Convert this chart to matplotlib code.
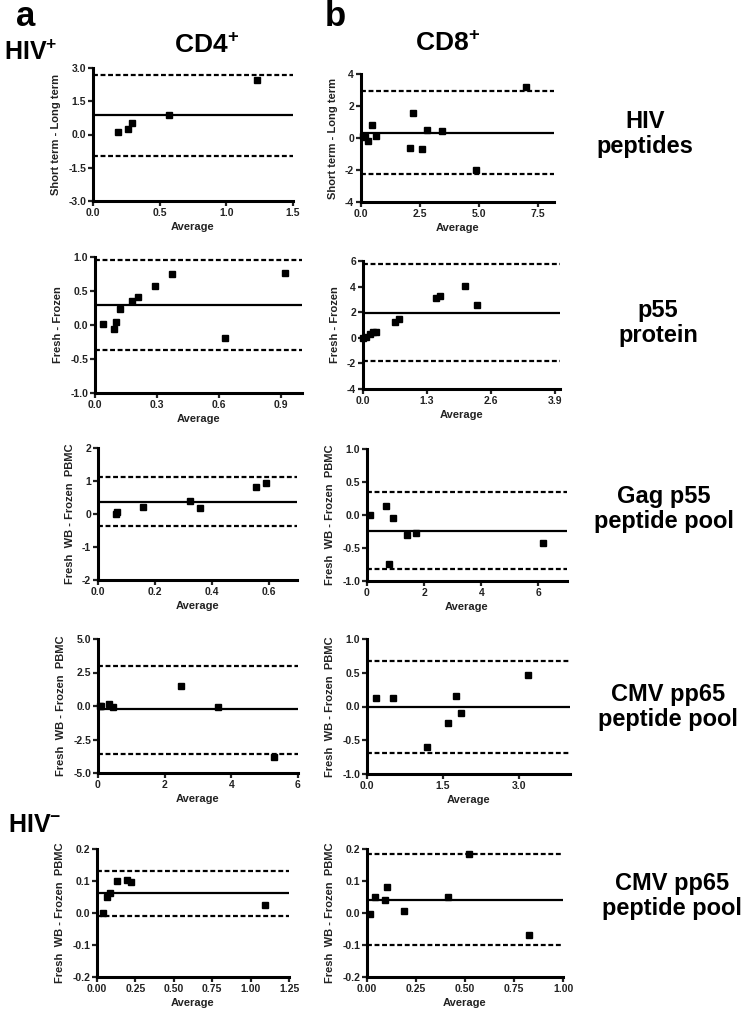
import matplotlib
matplotlib.use('Agg')
import matplotlib.pyplot as plt

plt.rcParams['font.family'] = ['Liberation Sans', 'DejaVu Sans']
plt.rcParams['font.weight'] = 'bold'
plt.rcParams['mathtext.fontset'] = 'custom'
plt.rcParams['mathtext.bf'] = 'Liberation Sans:bold'
plt.rcParams['mathtext.rm'] = 'Liberation Sans:bold'

# ---- data (Bland-Altman: average vs difference) ----
# a: CD4+
cd4_hiv_avg = [0.19, 0.26, 0.29, 0.57, 1.23]
cd4_hiv_diff = [0.13, 0.27, 0.54, 0.90, 2.45]
cd4_hiv_lines = [0.88, 2.68, -0.96]

cd4_p55_avg = [0.04, 0.09, 0.10, 0.12, 0.18, 0.21, 0.29, 0.37, 0.63, 0.92]
cd4_p55_diff = [0.015, -0.06, 0.045, 0.235, 0.36, 0.41, 0.58, 0.75, -0.19, 0.765]
cd4_p55_lines = [0.29, 0.95, -0.37]

cd4_gag_avg = [0.062, 0.067, 0.158, 0.323, 0.358, 0.555, 0.59]
cd4_gag_diff = [0.0, 0.06, 0.21, 0.38, 0.18, 0.82, 0.95]
cd4_gag_lines = [0.36, 1.11, -0.37]

cd4_cmv_avg = [0.05, 0.09, 0.33, 0.45, 2.48, 3.60, 5.28]
cd4_cmv_diff = [0.0, -0.02, 0.15, -0.05, 1.50, -0.05, -3.83]
cd4_cmv_lines = [-0.25, 2.95, -3.60]

cd4_neg_avg = [0.04, 0.063, 0.085, 0.133, 0.195, 0.223, 1.095]
cd4_neg_diff = [0.0, 0.049, 0.064, 0.099, 0.102, 0.097, 0.025]
cd4_neg_lines = [0.061, 0.132, -0.01]

# b: CD8+
cd8_hiv_avg = [0.10, 0.17, 0.28, 0.45, 0.64, 2.10, 2.20, 2.60, 2.80, 3.43, 4.90, 7.00]
cd8_hiv_diff = [0.15, 0.05, -0.18, 0.80, 0.12, -0.60, 1.54, -0.70, 0.53, 0.43, -2.00, 3.20]
cd8_hiv_lines = [0.34, 2.93, -2.28]

cd8_p55_avg = [0.0, 0.07, 0.15, 0.21, 0.27, 0.64, 0.73, 1.48, 1.57, 2.07, 2.31]
cd8_p55_diff = [0.0, 0.10, 0.30, 0.42, 0.45, 1.20, 1.45, 3.10, 3.25, 4.05, 2.60]
cd8_p55_lines = [1.92, 5.74, -1.85]

cd8_gag_avg = [0.12, 0.68, 0.77, 0.90, 1.41, 1.72, 6.16]
cd8_gag_diff = [0.0, 0.13, -0.74, -0.05, -0.31, -0.28, -0.43]
cd8_gag_lines = [-0.24, 0.356, -0.82]

cd8_cmv_avg = [0.18, 0.52, 1.19, 1.59, 1.75, 1.85, 3.17]
cd8_cmv_diff = [0.126, 0.126, -0.60, -0.24, 0.15, -0.10, 0.47]
cd8_cmv_lines = [-0.01, 0.67, -0.69]

cd8_neg_avg = [0.014, 0.04, 0.092, 0.10, 0.19, 0.415, 0.52, 0.825]
cd8_neg_diff = [-0.004, 0.051, 0.04, 0.08, 0.007, 0.049, 0.183, -0.069]
cd8_neg_lines = [0.042, 0.184, -0.099]

ylab_hiv = 'Short term - Long term'
ylab_p55 = 'Fresh - Frozen'
ylab_wb = 'Fresh  WB - Frozen  PBMC'

row_labels = ['HIV\npeptides', 'p55\nprotein', 'Gag p55\npeptide pool',
              'CMV pp65\npeptide pool', 'CMV pp65\npeptide pool']

# panel: avg, diff, lines, ylabel, xlim, xticks, xfmt, ylim, yticks, yfmt, box(left,right,top,bottom px)
panels = [
    (cd4_hiv_avg, cd4_hiv_diff, cd4_hiv_lines, ylab_hiv, 1.5, [0, 0.5, 1.0, 1.5], '%.1f',
     (-3, 3), [-3, -1.5, 0, 1.5, 3], '%.1f', (93, 293, 68, 201)),
    (cd8_hiv_avg, cd8_hiv_diff, cd8_hiv_lines, ylab_hiv, 8.2, [0, 2.5, 5.0, 7.5], '%.1f',
     (-4, 4), [-4, -2, 0, 2, 4], '%d', (361, 554, 74, 202)),
    (cd4_p55_avg, cd4_p55_diff, cd4_p55_lines, ylab_p55, 1.0, [0, 0.3, 0.6, 0.9], '%.1f',
     (-1, 1), [-1, -0.5, 0, 0.5, 1], '%.1f', (95, 302, 257, 393)),
    (cd8_p55_avg, cd8_p55_diff, cd8_p55_lines, ylab_p55, 4.0, [0, 1.3, 2.6, 3.9], '%.1f',
     (-4, 6), [-4, -2, 0, 2, 4, 6], '%d', (363, 560, 261, 389)),
    (cd4_gag_avg, cd4_gag_diff, cd4_gag_lines, ylab_wb, 0.7, [0, 0.2, 0.4, 0.6], '%.1f',
     (-2, 2), [-2, -1, 0, 1, 2], '%d', (98, 297, 448, 580)),
    (cd8_gag_avg, cd8_gag_diff, cd8_gag_lines, ylab_wb, 7.0, [0, 2, 4, 6], '%d',
     (-1, 1), [-1, -0.5, 0, 0.5, 1], '%.1f', (367, 567, 449, 581)),
    (cd4_cmv_avg, cd4_cmv_diff, cd4_cmv_lines, ylab_wb, 6.0, [0, 2, 4, 6], '%d',
     (-5, 5), [-5, -2.5, 0, 2.5, 5], '%.1f', (98, 298, 639, 773)),
    (cd8_cmv_avg, cd8_cmv_diff, cd8_cmv_lines, ylab_wb, 4.0, [0, 1.5, 3.0], '%.1f',
     (-1, 1), [-1, -0.5, 0, 0.5, 1], '%.1f', (367, 570, 639, 774)),
    (cd4_neg_avg, cd4_neg_diff, cd4_neg_lines, ylab_wb, 1.25, [0, 0.25, 0.5, 0.75, 1.0, 1.25], '%.2f',
     (-0.2, 0.2), [-0.2, -0.1, 0, 0.1, 0.2], '%.1f', (97, 289, 849, 977)),
    (cd8_neg_avg, cd8_neg_diff, cd8_neg_lines, ylab_wb, 1.0, [0, 0.25, 0.5, 0.75, 1.0], '%.2f',
     (-0.2, 0.2), [-0.2, -0.1, 0, 0.1, 0.2], '%.1f', (367, 563, 849, 977)),
]

W, H = 750, 1011
fig = plt.figure(figsize=(W / 100, H / 100), dpi=100)

for (avg, diff, lines, ylab, xmax, xt, xf, ylim, yt, yf, box) in panels:
    l, r, t, b = box
    ax = fig.add_axes([l / W, 1 - b / H, (r - l) / W, (b - t) / H])
    ax.axhline(lines[0], color='black', lw=1.6)
    ax.axhline(lines[1], color='black', lw=1.6, ls=(0, (2.2, 1.2)))
    ax.axhline(lines[2], color='black', lw=1.6, ls=(0, (2.2, 1.2)))
    ax.plot(avg, diff, 's', color='black', markersize=5, clip_on=False, zorder=5)
    ax.set_xlim(0, xmax)
    ax.set_ylim(ylim)
    ax.set_xticks(xt)
    ax.set_xticklabels([xf % v for v in xt])
    ax.set_yticks(yt)
    ax.set_yticklabels([yf % v for v in yt])
    for s in ['top', 'right']:
        ax.spines[s].set_visible(False)
    for s in ['left', 'bottom']:
        ax.spines[s].set_linewidth(2.2)
    ax.tick_params(direction='out', length=3.5, width=1.6, labelsize=7.5, pad=1.5, colors='#222222')
    ax.set_xlabel('Average', fontsize=8, fontweight='bold', color='#222222', labelpad=3)
    ax.set_ylabel(ylab, fontsize=8, fontweight='bold', color='#222222', labelpad=5)

# panel letters and headers
fig.text(26 / W, 1 - 16 / H, 'a', fontsize=25, fontweight='bold', ha='center', va='center')
fig.text(335 / W, 1 - 16 / H, 'b', fontsize=25, fontweight='bold', ha='center', va='center')
fig.text(4 / W, 1 - 53 / H, r'$\mathbf{HIV^{+}}$', fontsize=18, ha='left', va='center')
fig.text(8 / W, 1 - 825 / H, r'$\mathbf{HIV^{-}}$', fontsize=18, ha='left', va='center')
fig.text(207 / W, 1 - 46 / H, r'$\mathbf{CD4^{+}}$', fontsize=19, ha='center', va='center')
fig.text(448 / W, 1 - 44 / H, r'$\mathbf{CD8^{+}}$', fontsize=19, ha='center', va='center')

row_y = [134, 323, 509, 707, 896]
row_x = [645, 658, 664, 668, 672]
for lab, x, y in zip(row_labels, row_x, row_y):
    fig.text(x / W, 1 - y / H, lab, fontsize=17, fontweight='bold', ha='center', va='center',
             linespacing=1.1)

fig.savefig('out.png', dpi=100)
